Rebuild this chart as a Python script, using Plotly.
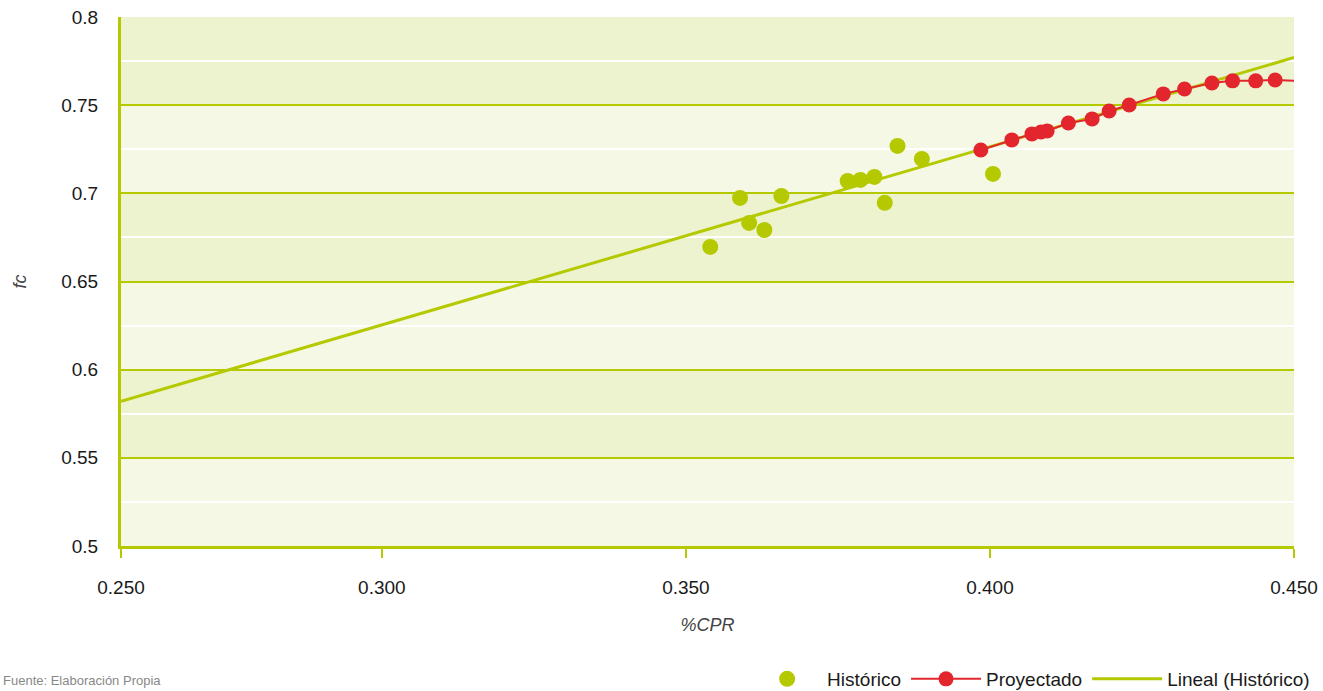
import plotly.graph_objects as go

# --- data ---
hist_x = [0.3540, 0.3589, 0.3604, 0.3629, 0.3657, 0.3766, 0.3787, 0.3810,
          0.3827, 0.3848, 0.3888, 0.4005]
hist_y = [0.6696, 0.6974, 0.6832, 0.6792, 0.6985, 0.7070, 0.7076, 0.7093,
          0.6946, 0.7269, 0.7195, 0.7110]

proj_x = [0.3985, 0.4036, 0.4069, 0.4084, 0.4094, 0.4129, 0.4168, 0.4196,
          0.4229, 0.4285, 0.4320, 0.4365, 0.4399, 0.4437, 0.4469, 0.4503]
proj_y = [0.7246, 0.7303, 0.7337, 0.7348, 0.7354, 0.7399, 0.7422, 0.7467,
          0.7501, 0.7564, 0.7592, 0.7626, 0.7638, 0.7638, 0.7643, 0.7638]

trend_x = [0.2571, 0.4500]
trend_y = [0.5820, 0.7770]

x_tickvals = [0.2571, 0.30, 0.35, 0.40, 0.45]
x_ticktext = ["0.250", "0.300", "0.350", "0.400", "0.450"]
y_tickvals = [0.5, 0.55, 0.6, 0.65, 0.7, 0.75, 0.8]
y_ticktext = ["0.5", "0.55", "0.6", "0.65", "0.7", "0.75", "0.8"]
dark_bands = [(0.55, 0.60), (0.65, 0.70), (0.75, 0.80)]

GREEN = "#b5c900"
RED = "#e3262e"
FONT = "Liberation Sans, Arial, sans-serif"

fig = go.Figure()

fig.add_trace(go.Scatter(
    x=trend_x, y=trend_y, mode="lines", name="Lineal (Histórico)",
    line=dict(color=GREEN, width=3), legendrank=3))
fig.add_trace(go.Scatter(
    x=hist_x, y=hist_y, mode="markers", name="Histórico",
    marker=dict(color=GREEN, size=16, line=dict(width=0)),
    cliponaxis=False, legendrank=1))
fig.add_trace(go.Scatter(
    x=proj_x, y=proj_y, mode="lines+markers", name="Proyectado",
    line=dict(color=RED, width=2),
    marker=dict(color=RED, size=15, line=dict(width=0)),
    cliponaxis=False, legendrank=2))

for y0, y1 in dark_bands:
    fig.add_shape(type="rect", xref="paper", yref="y", x0=0, x1=1, y0=y0, y1=y1,
                  fillcolor="#eef3cf", line=dict(width=0), layer="below")

fig.update_layout(
    width=1323, height=691,
    margin=dict(l=121, r=29, t=17, b=145, autoexpand=False),
    paper_bgcolor="white", plot_bgcolor="#f6f8e6",
    font=dict(family=FONT, size=19, color="#1a1a1a"),
    showlegend=True,
    legend=dict(orientation="h", x=1.018, xanchor="right", y=-0.2514, yanchor="middle",
                font=dict(size=19, color="#1a1a1a"), traceorder="normal",
                itemwidth=70, bgcolor="rgba(0,0,0,0)"),
    xaxis=dict(range=[0.2571, 0.45], tickvals=x_tickvals, ticktext=x_ticktext,
               showgrid=False, zeroline=False,
               showline=True, linecolor=GREEN, linewidth=3,
               ticks="outside", ticklen=9, tickwidth=2, tickcolor=GREEN,
               ticklabelstandoff=13, tickfont=dict(size=19),
               title=dict(text="<i>%CPR</i>", font=dict(size=18, color="#444"), standoff=22)),
    yaxis=dict(range=[0.5, 0.8], tickvals=y_tickvals, ticktext=y_ticktext,
               showgrid=True, gridcolor=GREEN, gridwidth=2, zeroline=False,
               showline=True, linecolor=GREEN, linewidth=3,
               ticks="", ticklabelstandoff=16, tickfont=dict(size=19),
               minor=dict(dtick=0.025, tick0=0.5, showgrid=True, gridcolor="white", gridwidth=2),
               title=dict(text="<i>fc</i>", font=dict(size=18, color="#444"), standoff=30)),
)

fig.add_annotation(text="Fuente: Elaboración Propia", xref="paper", yref="paper",
                   x=-0.1023, xanchor="left", y=-0.272, yanchor="bottom", showarrow=False,
                   font=dict(size=13, color="#888"))

fig.write_html("out.html")
